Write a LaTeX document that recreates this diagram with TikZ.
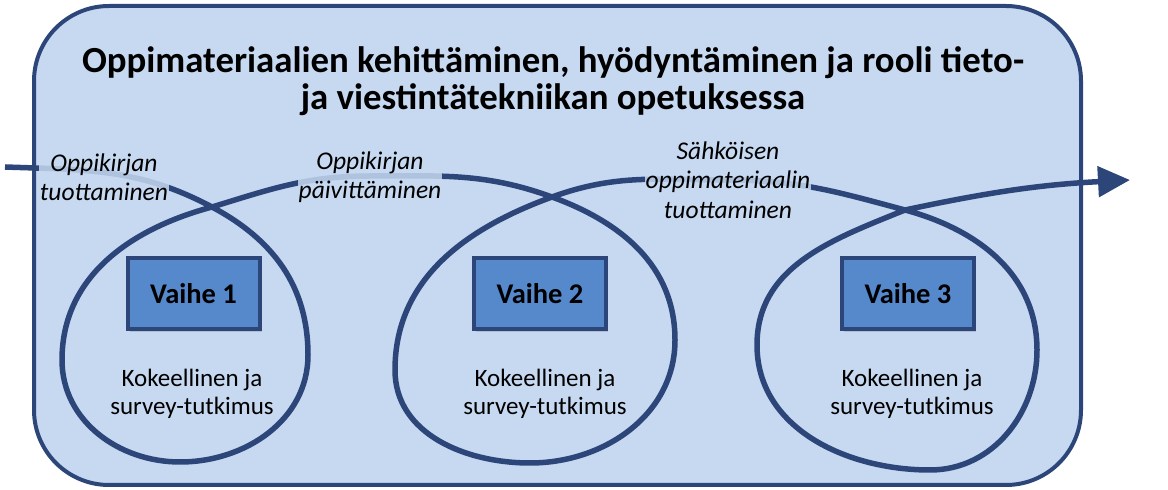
\documentclass[tikz,border=0pt]{standalone}
\usepackage{fontspec}
\setmainfont{Carlito}
\usetikzlibrary{arrows.meta,shadows}
\definecolor{bgblue}{RGB}{198,217,240}
\definecolor{lineblue}{RGB}{45,70,122}
\definecolor{boxblue}{RGB}{86,136,204}

\begin{document}
\begin{tikzpicture}[x=1pt,y=1pt,
	frame/.style={draw=lineblue,line width=4pt,fill=bgblue,rounded corners=75pt},
	phase/.style={draw=lineblue,line width=4pt,fill=boxblue,minimum width=132pt,minimum height=71pt,inner sep=0pt,
		font=\fontsize{28.5}{32}\selectfont\bfseries,drop shadow={shadow xshift=2pt,shadow yshift=-3pt,opacity=0.3}},
	tag/.style={font=\fontsize{25.5}{29.5}\selectfont\itshape,align=center,fill=bgblue,fill opacity=0.85,text opacity=1,inner sep=1pt},
	method/.style={font=\fontsize{25}{28}\selectfont,align=center},
	route/.style={draw=lineblue,line width=5.5pt}]
				\useasboundingbox (0,0) rectangle (1168,490);
				\draw [frame] (34,5) rectangle (1081,484);

				\node [font=\fontsize{36.8}{37.5}\selectfont\bfseries,align=center] (T) at (553,409)
					{Oppimateriaalien kehittäminen, hyödyntäminen ja rooli tieto-\\ja viestintätekniikan opetuksessa};

				\coordinate (S) at (5,323);
				\coordinate (X1) at (212,283);
				\coordinate (R1) at (308,135);
				\coordinate (B1) at (180,28);
				\coordinate (L1) at (62,130);
				\coordinate (M12) at (370,314);
				\coordinate (X2) at (552,293);
				\coordinate (R2) at (675,150);
				\coordinate (B2) at (530,27);
				\coordinate (L2) at (395,120);
				\coordinate (M23) at (728,310);
				\coordinate (X3) at (905,280);
				\coordinate (R3) at (1037,140);
				\coordinate (B3) at (930,20);
				\coordinate (L3) at (757,145);
				\coordinate (E) at (1130,310);
				\draw [route,-{Triangle[length=32pt,width=30pt]}] (S) to[out=-2,in=152] (X1)
					to[out=-28,in=90] (R1) to[out=-90,in=0] (B1) to[out=180,in=-90] (L1) to[out=90,in=-165] (X1)
					to[out=17,in=180] (M12) to[out=0,in=160] (X2)
					to[out=-20,in=90] (R2) to[out=-90,in=0] (B2) to[out=180,in=-90] (L2) to[out=90,in=-160] (X2)
					to[out=20,in=180] (M23) to[out=0,in=165] (X3)
					to[out=-15,in=90] (R3) to[out=-90,in=0] (B3) to[out=180,in=-90] (L3) to[out=90,in=-158] (X3)
					to[out=12,in=183] (E);

				\node [tag] (t1) at (104,313) {Oppikirjan\\tuottaminen};
				\node [tag] (t2) at (370,313) {Oppikirjan\\päivittäminen};
				\node [tag] (t3) at (728,310) {Sähköisen\\oppimateriaalin\\tuottaminen};

				\node [phase] (V1) at (193.5,196.5) {Vaihe 1};
				\node [phase] (V2) at (540,196.5) {Vaihe 2};
				\node [phase] (V3) at (908,196) {Vaihe 3};

				\node [method] (K1) at (192,96) {Kokeellinen ja\\survey-tutkimus};
				\node [method] (K2) at (545,96) {Kokeellinen ja\\survey-tutkimus};
				\node [method] (K3) at (912,96) {Kokeellinen ja\\survey-tutkimus};
			\end{tikzpicture}
\end{document}
